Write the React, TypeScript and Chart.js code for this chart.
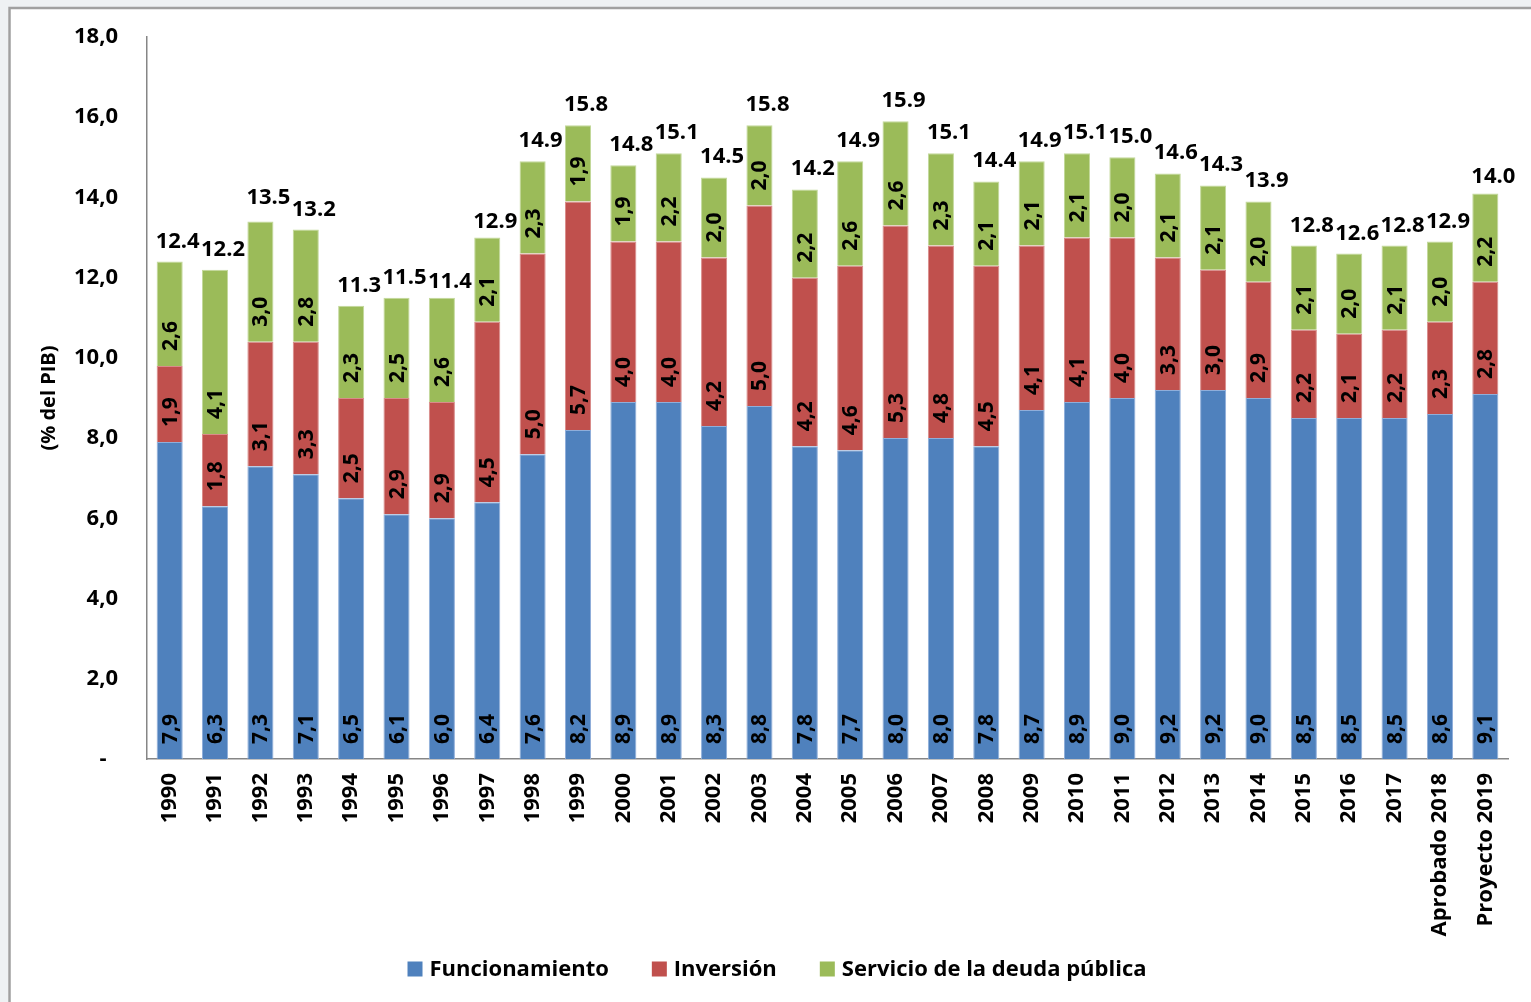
import React, { useEffect, useRef } from "react";
import { Chart, registerables } from "chart.js";

Chart.register(...registerables);

const categories = [
  "1990", "1991", "1992", "1993", "1994", "1995", "1996", "1997", "1998", "1999",
  "2000", "2001", "2002", "2003", "2004", "2005", "2006", "2007", "2008", "2009",
  "2010", "2011", "2012", "2013", "2014", "2015", "2016", "2017", "Aprobado 2018", "Proyecto 2019",
];

const funcionamiento = [
  7.9, 6.3, 7.3, 7.1, 6.5, 6.1, 6.0, 6.4, 7.6, 8.2,
  8.9, 8.9, 8.3, 8.8, 7.8, 7.7, 8.0, 8.0, 7.8, 8.7,
  8.9, 9.0, 9.2, 9.2, 9.0, 8.5, 8.5, 8.5, 8.6, 9.1,
];

const inversion = [
  1.9, 1.8, 3.1, 3.3, 2.5, 2.9, 2.9, 4.5, 5.0, 5.7,
  4.0, 4.0, 4.2, 5.0, 4.2, 4.6, 5.3, 4.8, 4.5, 4.1,
  4.1, 4.0, 3.3, 3.0, 2.9, 2.2, 2.1, 2.2, 2.3, 2.8,
];

const servicioDeuda = [
  2.6, 4.1, 3.0, 2.8, 2.3, 2.5, 2.6, 2.1, 2.3, 1.9,
  1.9, 2.2, 2.0, 2.0, 2.2, 2.6, 2.6, 2.3, 2.1, 2.1,
  2.1, 2.0, 2.1, 2.1, 2.0, 2.1, 2.0, 2.1, 2.0, 2.2,
];

const totals = [
  12.4, 12.2, 13.5, 13.2, 11.3, 11.5, 11.4, 12.9, 14.9, 15.8,
  14.8, 15.1, 14.5, 15.8, 14.2, 14.9, 15.9, 15.1, 14.4, 14.9,
  15.1, 15.0, 14.6, 14.3, 13.9, 12.8, 12.6, 12.8, 12.9, 14.0,
];

const seriesNames = ["Funcionamiento", "Inversión", "Servicio de la deuda pública"];
const seriesColors = ["#4F81BD", "#C0504D", "#9BBB59"];
const seriesBorders = ["#8FAEDA", "#D98C8A", "#C3D99B"];

const yTickMin = 0;
const yTickMax = 18;
const yTickStep = 2;

const FONT = '"Open Sans", "Noto Sans", "DejaVu Sans", sans-serif';

const fmtComma = (v: number) => v.toFixed(1).replace(".", ",");

const framePlugin = {
  id: "frame",
  beforeDraw(chart: any) {
    const { ctx, width, height } = chart;
    ctx.save();
    ctx.fillStyle = "#ffffff";
    ctx.fillRect(0, 0, width, height);
    ctx.fillStyle = "#eef1f3";
    ctx.fillRect(0, 0, 8, height);
    ctx.fillRect(0, 0, width, 7);
    ctx.strokeStyle = "#a0a0a0";
    ctx.lineWidth = 2.5;
    ctx.beginPath();
    ctx.moveTo(9.5, height);
    ctx.lineTo(9.5, 8);
    ctx.lineTo(width, 8);
    ctx.stroke();
    ctx.restore();
  },
};

const labelsPlugin = {
  id: "segLabels",
  afterDatasetsDraw(chart: any) {
    const { ctx } = chart;
    ctx.save();
    ctx.fillStyle = "#000";
    ctx.font = `bold 21px ${FONT}`;
    chart.data.datasets.forEach((ds: any, i: number) => {
      const meta = chart.getDatasetMeta(i);
      meta.data.forEach((bar: any, j: number) => {
        const { x, base } = bar.getProps(["x", "base"], true);
        ctx.save();
        ctx.translate(x, base - 15);
        ctx.rotate(-Math.PI / 2);
        ctx.textAlign = "left";
        ctx.textBaseline = "middle";
        ctx.fillText(fmtComma(ds.data[j]), 0, 1);
        ctx.restore();
      });
    });
    const yScale = chart.scales.y;
    const meta0 = chart.getDatasetMeta(0);
    ctx.font = `bold 22px ${FONT}`;
    ctx.textAlign = "center";
    ctx.textBaseline = "alphabetic";
    totals.forEach((t, j) => {
      const bar = meta0.data[j];
      const x = bar.x + 8;
      const y = yScale.getPixelForValue(t) - 14;
      ctx.fillText(t.toFixed(1), x, y);
    });
    ctx.restore();
  },
  afterDraw(chart: any) {
    const { ctx } = chart;
    ctx.save();
    ctx.font = `bold 22px ${FONT}`;
    ctx.textBaseline = "middle";
    ctx.textAlign = "left";
    const box = 15;
    const gapText = 7;
    const gapItem = 43;
    const widths = seriesNames.map((n) => ctx.measureText(n).width);
    const total = widths.reduce((a, w) => a + box + gapText + w, 0) + gapItem * (seriesNames.length - 1);
    let x = 777 - total / 2;
    const y = 969;
    seriesNames.forEach((n, i) => {
      ctx.fillStyle = seriesColors[i];
      ctx.fillRect(x, y - box / 2, box, box);
      ctx.fillStyle = "#000";
      ctx.fillText(n, x + box + gapText, y + 1);
      x += box + gapText + widths[i] + gapItem;
    });
    ctx.restore();
  },
};

export default function App() {
  const canvasRef = useRef<HTMLCanvasElement | null>(null);

  useEffect(() => {
    if (!canvasRef.current) return;
    Chart.defaults.font.family = FONT;
    const seriesData = [funcionamiento, inversion, servicioDeuda];
    const chart = new Chart(canvasRef.current, {
      type: "bar",
      data: {
        labels: categories,
        datasets: seriesData.map((d, i) => ({
          label: seriesNames[i],
          data: d,
          backgroundColor: seriesColors[i],
          borderColor: seriesBorders[i],
          borderWidth: 1,
          barPercentage: 0.575,
          categoryPercentage: 1,
        })),
      },
      options: {
        animation: false,
        responsive: true,
        maintainAspectRatio: false,
        layout: { padding: { top: 37, left: 0, right: 23, bottom: 20 } },
        plugins: {
          legend: { display: false },
          tooltip: { enabled: false },
        },
        scales: {
          x: {
            stacked: true,
            grid: { display: false, drawTicks: false },
            border: { display: true, color: "#868686", width: 1.5 },
            ticks: {
              autoSkip: false,
              maxRotation: 90,
              minRotation: 90,
              padding: 14,
              color: "#000",
              font: { size: 22, weight: "bold", family: FONT },
            },
            afterFit: (scale: any) => {
              scale.height = 1002 - 759 - 20;
            },
          },
          y: {
            stacked: true,
            min: yTickMin,
            max: yTickMax,
            grid: { display: false, drawTicks: true, tickLength: 29, tickColor: "rgba(0,0,0,0)" },
            border: { display: true, color: "#868686", width: 1.5 },
            ticks: {
              stepSize: yTickStep,
              padding: 0,
              color: "#000",
              font: { size: 22, weight: "bold", family: FONT },
              callback: (v: any) => (Number(v) === 0 ? "-  " : fmtComma(Number(v))),
            },
            title: {
              display: true,
              text: "(% del PIB)",
              color: "#000",
              font: { size: 20, weight: "bold", family: FONT },
              padding: { top: 37, bottom: 0 },
            },
            afterFit: (scale: any) => {
              scale.width = 147;
            },
          },
        },
      },
      plugins: [framePlugin, labelsPlugin],
    });
    return () => chart.destroy();
  }, []);

  return (
    <div style={{ position: "fixed", left: 0, top: 0, width: 1531, height: 1002 }}>
      <canvas ref={canvasRef} />
    </div>
  );
}
